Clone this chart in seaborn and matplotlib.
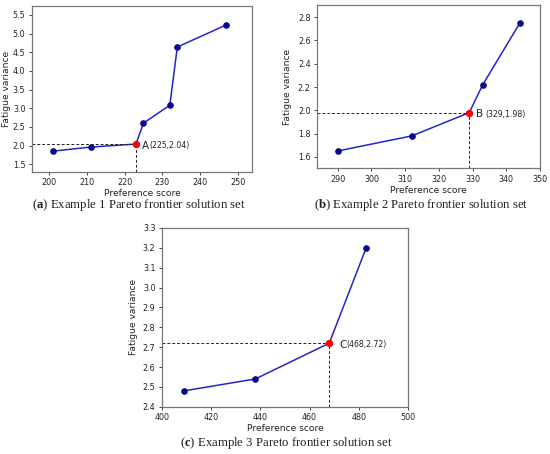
import numpy as np
import pandas as pd
import matplotlib
matplotlib.use("Agg")
import matplotlib.pyplot as plt
import seaborn as sns

# Pareto frontier points for each example
ex1_score = [201, 211, 223, 225, 232, 234, 247]
ex1_var = [1.85, 1.96, 2.04, 2.60, 3.08, 4.64, 5.23]
ex2_score = [290, 312, 329, 333, 344]
ex2_var = [1.65, 1.78, 1.98, 2.22, 2.75]
ex3_score = [409, 438, 468, 483]
ex3_var = [2.48, 2.54, 2.72, 3.20]

# chosen solution in each set
best_idx = [2, 2, 2]
best_letters = ['A', 'B', 'C']
best_labels = ['(225,2.04)', '(329,1.98)', '(468,2.72)']

captions = ['a', 'b', 'c']
caption_text = ['Example 1 Pareto frontier solution set',
                'Example 2 Pareto frontier solution set',
                'Example 3 Pareto frontier solution set']

sns.set_style("ticks")
plt.rcParams['font.family'] = ['DejaVu Sans']
plt.rcParams['mathtext.fontset'] = 'custom'
plt.rcParams['mathtext.rm'] = 'Liberation Serif'
plt.rcParams['mathtext.bf'] = 'Liberation Serif:bold'

fig = plt.figure(figsize=(5.5, 4.54), dpi=100)

# axes boxes in figure fraction
boxes = [[0.0576, 0.621, 0.401, 0.366],
         [0.576, 0.629, 0.406, 0.360],
         [0.294, 0.104, 0.448, 0.394]]
xlims = [(195.3, 253.9), (283.8, 350), (400, 500)]
ylims = [(1.29, 5.74), (1.5, 2.905), (2.4, 3.3)]
xticks = [np.arange(200, 251, 10), np.arange(290, 351, 10), np.arange(400, 501, 20)]
yticks = [np.arange(1.5, 5.51, 0.5), np.arange(1.6, 2.81, 0.2), np.arange(2.4, 3.31, 0.1)]
cap_pos = [(0.253, 0.548), (0.765, 0.548), (0.521, 0.024)]
letter_off = [(4.5, -1.2), (5, -1.2), (7, -1.2)]
label_off = [(10, -1.2), (11.5, -1.2), (12.5, -1.2)]
ylab_pad = [1, 4.5, 3.5]

data_sets = [(ex1_score, ex1_var), (ex2_score, ex2_var), (ex3_score, ex3_var)]

for i, (xs, ys) in enumerate(data_sets):
    ax = fig.add_axes(boxes[i])
    df = pd.DataFrame({'score': xs, 'var': ys})
    sns.lineplot(data=df, x='score', y='var', sort=False, ax=ax,
                 color='#2424cc', linewidth=1.1, marker='o', markersize=4.0,
                 markerfacecolor='#0a0a8c', markeredgecolor='#0a0a8c')
    bx = xs[best_idx[i]]
    by = ys[best_idx[i]]
    ax.set_xlim(*xlims[i])
    ax.set_ylim(*ylims[i])
    # dashed guides to the chosen solution
    ax.plot([xlims[i][0], bx], [by, by], ls='--', color='#222222', lw=0.7, dashes=(3, 2))
    ax.plot([bx, bx], [ylims[i][0], by], ls='--', color='#222222', lw=0.7, dashes=(3, 2))
    ax.plot([bx], [by], 'o', color='red', markersize=4.2, zorder=5)
    ax.annotate(best_letters[i], (bx, by), xytext=letter_off[i], textcoords='offset points',
                fontsize=7.5, va='center', ha='left', color='#222222')
    ax.annotate(best_labels[i], (bx, by), xytext=label_off[i], textcoords='offset points',
                fontsize=5.6, va='center', ha='left', color='#222222')
    ax.set_xticks(xticks[i])
    ax.set_yticks(yticks[i])
    ax.set_xticklabels([f'{v:g}' for v in xticks[i]])
    ax.set_yticklabels([f'{v:.1f}' for v in yticks[i]])
    ax.tick_params(labelsize=5.8, length=2.5, width=0.6, pad=2, colors='#222222')
    ax.set_xlabel('Preference score', fontsize=6.6, labelpad=1.5, color='#222222')
    ax.set_ylabel('Fatigue variance', fontsize=6.6, labelpad=ylab_pad[i], color='#222222')
    for s in ax.spines.values():
        s.set_color('#777777')
        s.set_linewidth(0.9)
    fig.text(cap_pos[i][0], cap_pos[i][1],
             r'($\mathbf{' + captions[i] + r'}$) ' + caption_text[i],
             family='Liberation Serif', fontsize=9.2, ha='center', va='center', color='#222222')

fig.savefig('out.png', dpi=100)
